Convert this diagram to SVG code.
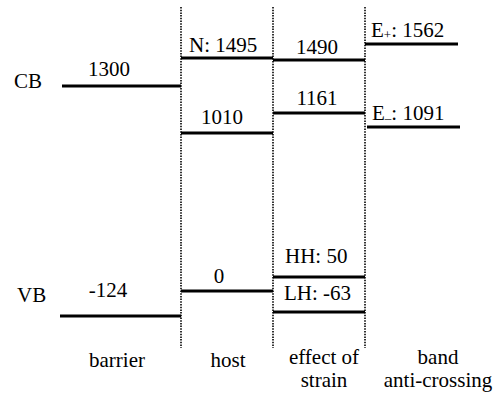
<svg xmlns="http://www.w3.org/2000/svg" width="498" height="395" viewBox="0 0 498 395">
  <style>
    text { font-family: "Liberation Serif", "Times New Roman", "DejaVu Serif", serif; font-size: 21px; fill: #000; }
    .mid { text-anchor: middle; }
    .sep { stroke: #000; stroke-width: 1.6; stroke-dasharray: 1.5 1.2; fill: none; }
    .lvl { stroke: #000; stroke-width: 3; fill: none; }
    .sub { font-size: 13px; }
  </style>
  <rect width="498" height="395" fill="#fff"/>

  <!-- column separators -->
  <g id="separators">
    <line class="sep" x1="181" y1="7" x2="181" y2="348"/>
    <line class="sep" x1="273" y1="7" x2="273" y2="348"/>
    <line class="sep" x1="365" y1="7" x2="365" y2="348"/>
  </g>

  <!-- band labels -->
  <g id="band-labels">
    <text x="14" y="88">CB</text>
    <text x="17" y="302">VB</text>
  </g>

  <!-- barrier column -->
  <g id="barrier">
    <line class="lvl" x1="62" y1="86" x2="181" y2="86"/>
    <text class="mid" x="109" y="76">1300</text>
    <line class="lvl" x1="60" y1="316" x2="181" y2="316"/>
    <text class="mid" x="108" y="297">-124</text>
    <text class="mid" x="117" y="367">barrier</text>
  </g>

  <!-- host column -->
  <g id="host">
    <line class="lvl" x1="181" y1="58" x2="273" y2="58"/>
    <text x="189" y="52">N: 1495</text>
    <line class="lvl" x1="181" y1="133" x2="273" y2="133"/>
    <text class="mid" x="222" y="124">1010</text>
    <line class="lvl" x1="181" y1="291" x2="273" y2="291"/>
    <text class="mid" x="219" y="283">0</text>
    <text class="mid" x="228" y="367">host</text>
  </g>

  <!-- strain column -->
  <g id="strain">
    <line class="lvl" x1="273" y1="60" x2="365" y2="60"/>
    <text class="mid" x="317" y="54">1490</text>
    <line class="lvl" x1="273" y1="113" x2="365" y2="113"/>
    <text class="mid" x="317" y="105">1161</text>
    <line class="lvl" x1="273" y1="277" x2="365" y2="277"/>
    <text x="285" y="263">HH: 50</text>
    <line class="lvl" x1="273" y1="312" x2="365" y2="312"/>
    <text x="284" y="300">LH: -63</text>
    <text class="mid" x="324" y="364">effect of</text>
    <text class="mid" x="324" y="387">strain</text>
  </g>

  <!-- band anti-crossing column -->
  <g id="bac">
    <line class="lvl" x1="365" y1="44" x2="458" y2="44"/>
    <text x="371" y="37">E<tspan class="sub" dy="2">+</tspan><tspan dy="-2">: 1562</tspan></text>
    <line class="lvl" x1="367" y1="127" x2="460" y2="127"/>
    <text x="372" y="120">E<tspan class="sub" dy="2">–</tspan><tspan dy="-2">: 1091</tspan></text>
    <text class="mid" x="438" y="364">band</text>
    <text class="mid" x="438" y="387">anti-crossing</text>
  </g>
</svg>
